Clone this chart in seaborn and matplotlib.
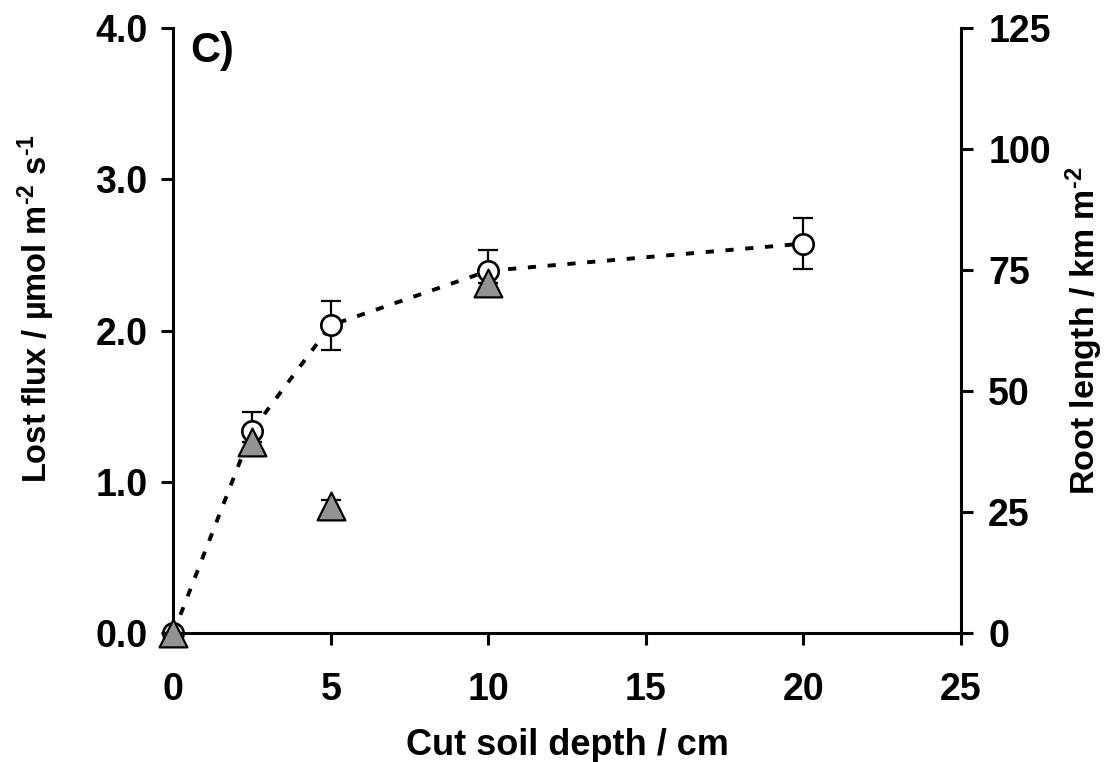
import matplotlib
matplotlib.use("Agg")
import matplotlib.pyplot as plt
import seaborn as sns
import pandas as pd

# ---- data ----
depth = [0, 2.5, 5, 10, 20]                 # cut soil depth / cm
lost_flux = [0.0, 1.34, 2.035, 2.395, 2.575]  # µmol m-2 s-1 (open circles)
lost_flux_err = [0.0, 0.12, 0.16, 0.135, 0.17]

root_depth = [0, 2.5, 5, 10]                # triangles (right axis)
root_length = [0.0, 39.5, 26.2, 72.4]       # km m-2
root_length_err = [0.0, 0.0, 1.3, 0.0]

x_ticks = [0, 5, 10, 15, 20, 25]
y_ticks = [0.0, 1.0, 2.0, 3.0, 4.0]
y_tick_labels = ["0.0", "1.0", "2.0", "3.0", "4.0"]
y2_ticks = [0, 25, 50, 75, 100, 125]

flux_df = pd.DataFrame({"depth": depth, "flux": lost_flux})
root_df = pd.DataFrame({"depth": root_depth, "root": root_length})

sns.set_theme(style="white")
plt.rcParams["font.family"] = ["Liberation Sans", "DejaVu Sans"]
plt.rcParams["font.weight"] = "bold"
plt.rcParams["text.color"] = "black"
plt.rcParams["axes.labelcolor"] = "black"
plt.rcParams["xtick.color"] = "black"
plt.rcParams["ytick.color"] = "black"
plt.rcParams["mathtext.fontset"] = "custom"
plt.rcParams["mathtext.rm"] = "Liberation Sans:bold"
plt.rcParams["mathtext.bf"] = "Liberation Sans:bold"
plt.rcParams["mathtext.it"] = "Liberation Sans:bold"
plt.rcParams["mathtext.default"] = "rm"

FS_TICK = 27
FS_XLAB = 26
FS_YLAB = 23.5
FS_Y2LAB = 24.5
fig = plt.figure(figsize=(11.12, 7.62), dpi=100)
ax = fig.add_axes([0.1558, 0.1689, 0.7084, 0.7944])
ax.set_facecolor("none")

# dashed line through the means
sns.lineplot(data=flux_df, x="depth", y="flux", ax=ax, color="black",
             linewidth=2.8, dashes=False, zorder=2, clip_on=False)
ax.lines[-1].set_dashes((2.1, 3.0))
ax.errorbar(depth, lost_flux, yerr=lost_flux_err, fmt="none", ecolor="black",
            elinewidth=1.6, capsize=7, capthick=1.6, zorder=3, clip_on=False)
sns.scatterplot(data=flux_df, x="depth", y="flux", ax=ax, marker="o", s=215,
                facecolor="white", edgecolor="black", linewidth=1.9,
                zorder=4, clip_on=False)

ax.set_xlim(0, 25)
ax.set_ylim(0, 4)
ax.set_xticks(x_ticks)
ax.set_yticks(y_ticks)
ax.set_yticklabels(y_tick_labels)

ax2 = ax.twinx()
ax2.set_facecolor("none")
ax2.errorbar(root_depth, root_length, yerr=root_length_err, fmt="none",
             ecolor="black", elinewidth=1.6, capsize=7, capthick=1.6,
             zorder=3, clip_on=False)
sns.scatterplot(data=root_df, x="depth", y="root", ax=ax2, marker="^", s=400,
                color="#939393", edgecolor="black", linewidth=1.6,
                zorder=5, clip_on=False)
ax2.set_ylim(0, 125)
ax2.set_yticks(y2_ticks)
ax2.set_xlim(0, 25)

for s in ["top", "right"]:
    ax.spines[s].set_visible(False)
for s in ["top", "left", "bottom"]:
    ax2.spines[s].set_visible(False)
for sp in [ax.spines["left"], ax.spines["bottom"], ax2.spines["right"]]:
    sp.set_linewidth(2.2)
    sp.set_color("black")

ax.tick_params(axis="both", direction="out", length=8.6, width=2.2,
               colors="black", labelsize=FS_TICK, left=True, bottom=True)
ax.tick_params(axis="y", pad=10)
ax.tick_params(axis="x", pad=19)
ax2.tick_params(axis="y", direction="out", length=8.6, width=2.2,
                colors="black", labelsize=FS_TICK, right=True, pad=11)
for lab in ax.get_xticklabels() + ax.get_yticklabels() + ax2.get_yticklabels():
    lab.set_fontweight("bold")

ax.set_xlabel("Cut soil depth / cm", fontsize=FS_XLAB, fontweight="bold",
              labelpad=15)
ax.set_ylabel(r"Lost flux / µmol m$^{\text{-2}}$ s$^{\text{-1}}$",
              fontsize=FS_YLAB, fontweight="bold")
ax.yaxis.set_label_coords(-0.147, 0.536)
ax2.set_ylabel(r"Root length / km m$^{\text{-2}}$", fontsize=FS_Y2LAB,
               fontweight="bold")
ax2.yaxis.set_label_coords(1.130, 0.50)

ax.text(0.022, 0.995, "C)", transform=ax.transAxes, fontsize=30,
        fontweight="bold", ha="left", va="top")

fig.savefig("out.png", dpi=100)
